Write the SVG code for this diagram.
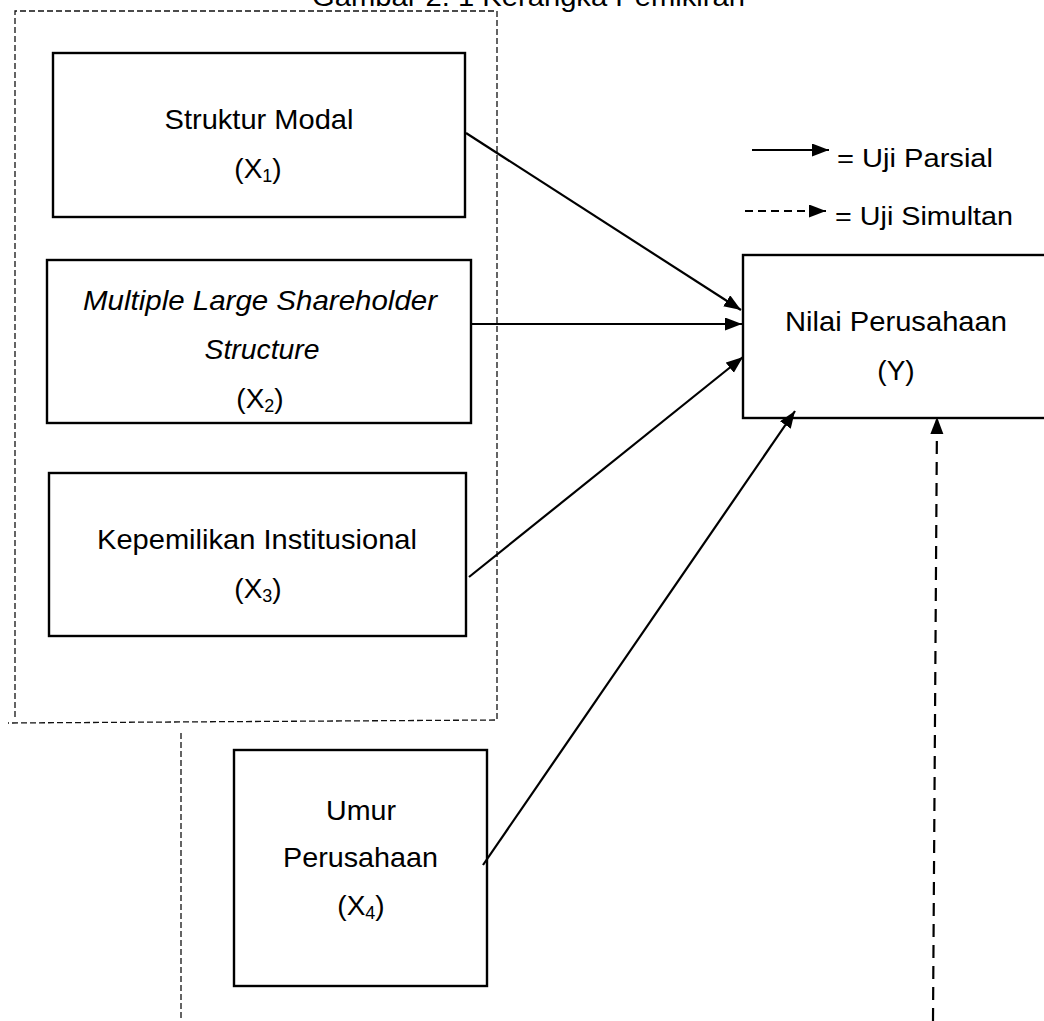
<svg xmlns="http://www.w3.org/2000/svg" width="1044" height="1021" viewBox="0 0 1044 1021">
<style>
  .box { fill: #ffffff; stroke: #000000; stroke-width: 2.4; }
  .t { font-family: "Liberation Sans", Arial, sans-serif; font-size: 28px; fill: #000000; text-anchor: middle; }
  .p { font-family: "Liberation Sans", Arial, sans-serif; font-size: 28px; fill: #000000; text-anchor: middle; }
  .sub { font-size: 18px; }
  .lg { font-family: "Liberation Sans", Arial, sans-serif; font-size: 26px; fill: #000000; }
  .conn { fill: none; stroke: #000000; stroke-width: 2.2; }
  .dash { stroke-dasharray: 13 8; }
  .thin { fill: none; stroke: #111111; stroke-width: 1.3; stroke-dasharray: 6 3; }
</style>
<defs>
  <marker id="ah" markerUnits="userSpaceOnUse" markerWidth="18" markerHeight="14" refX="17" refY="6.5" orient="auto">
    <path d="M0,0 L17,6.5 L0,13 z" fill="#000000"/>
  </marker>
</defs>
<rect width="1044" height="1021" fill="#ffffff"/>

<text class="t" x="312" y="6" style="text-anchor:start" textLength="433" lengthAdjust="spacingAndGlyphs">Gambar 2. 1 Kerangka Pemikiran</text>

<g id="group-frame">
  <path class="thin" d="M15,717 V11 H497 V720 L8,723"/>
  <path class="thin" d="M181,733 V1021"/>
</g>

<g id="node-x1">
  <rect class="box" x="53" y="53" width="412" height="164"/>
  <text class="t" x="259" y="129" textLength="189" lengthAdjust="spacingAndGlyphs">Struktur Modal</text>
  <text class="p" x="258" y="178">(X<tspan class="sub" dy="4">1</tspan><tspan dy="-4">)</tspan></text>
</g>

<g id="node-x2">
  <rect class="box" x="47" y="260" width="424" height="163"/>
  <text class="t" x="260" y="310" style="font-style:italic" textLength="354" lengthAdjust="spacingAndGlyphs">Multiple Large Shareholder</text>
  <text class="t" x="262" y="359" style="font-style:italic" textLength="115" lengthAdjust="spacingAndGlyphs">Structure</text>
  <text class="p" x="260" y="408">(X<tspan class="sub" dy="4">2</tspan><tspan dy="-4">)</tspan></text>
</g>

<g id="node-x3">
  <rect class="box" x="49" y="473" width="417" height="163"/>
  <text class="t" x="257" y="549" textLength="320" lengthAdjust="spacingAndGlyphs">Kepemilikan Institusional</text>
  <text class="p" x="258" y="598">(X<tspan class="sub" dy="4">3</tspan><tspan dy="-4">)</tspan></text>
</g>

<g id="node-x4">
  <rect class="box" x="234" y="750" width="253" height="236"/>
  <text class="t" x="361" y="820" textLength="70" lengthAdjust="spacingAndGlyphs">Umur</text>
  <text class="t" x="360.5" y="867" textLength="155" lengthAdjust="spacingAndGlyphs">Perusahaan</text>
  <text class="p" x="361" y="915">(X<tspan class="sub" dy="4">4</tspan><tspan dy="-4">)</tspan></text>
</g>

<g id="node-y">
  <rect class="box" x="743" y="255" width="320" height="163"/>
  <text class="t" x="896" y="331" textLength="222" lengthAdjust="spacingAndGlyphs">Nilai Perusahaan</text>
  <text class="p" x="896" y="380">(Y)</text>
</g>

<g id="legend">
  <line class="conn" x1="752" y1="150" x2="829" y2="150" marker-end="url(#ah)"/>
  <text class="lg" x="837" y="167" textLength="156" lengthAdjust="spacingAndGlyphs">= Uji Parsial</text>
  <line class="conn" x1="745" y1="211" x2="826" y2="211" stroke-dasharray="8 5" marker-end="url(#ah)"/>
  <text class="lg" x="835" y="225" textLength="178" lengthAdjust="spacingAndGlyphs">= Uji Simultan</text>
</g>

<g id="connectors">
  <line class="conn" x1="466" y1="133" x2="741" y2="310" marker-end="url(#ah)"/>
  <line class="conn" x1="471" y1="324" x2="742" y2="324" marker-end="url(#ah)"/>
  <line class="conn" x1="469" y1="577" x2="743" y2="357" marker-end="url(#ah)"/>
  <line class="conn" x1="483" y1="865" x2="795" y2="411" marker-end="url(#ah)"/>
  <line class="conn dash" x1="933" y1="1021" x2="937" y2="417" marker-end="url(#ah)"/>
</g>
</svg>
